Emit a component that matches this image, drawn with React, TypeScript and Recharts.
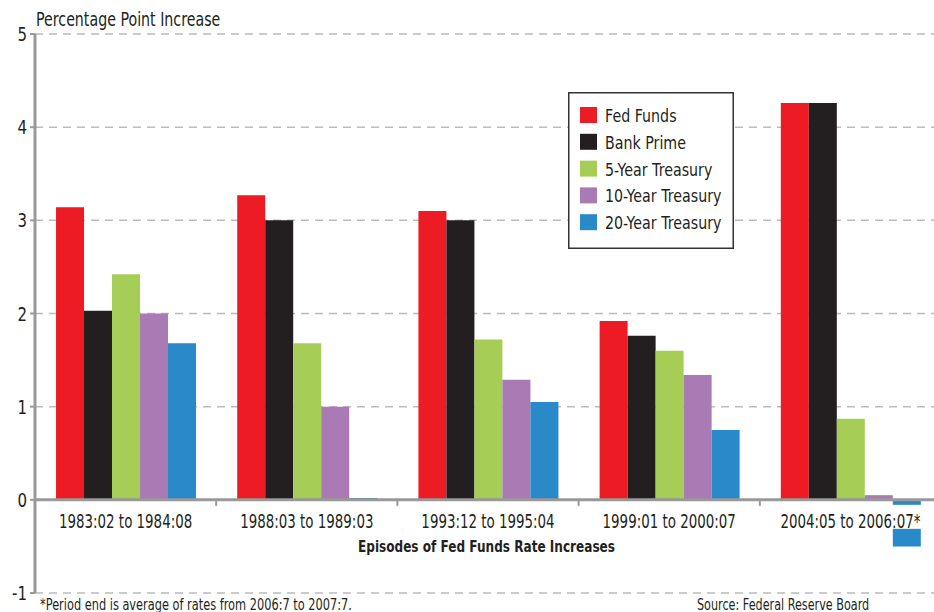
import React from 'react';
import { BarChart, Bar, XAxis, YAxis, CartesianGrid, ReferenceLine } from 'recharts';

const categories = ['1983:02 to 1984:08', '1988:03 to 1989:03', '1993:12 to 1995:04', '1999:01 to 2000:07', '2004:05 to 2006:07*'];
const fedFunds = [3.14, 3.27, 3.1, 1.92, 4.26];
const bankPrime = [2.03, 3.0, 3.0, 1.76, 4.26];
const treasury5 = [2.42, 1.68, 1.72, 1.6, 0.87];
const treasury10 = [2.0, 1.0, 1.29, 1.34, 0.05];
const treasury20 = [1.68, 0.02, 1.05, 0.75, -0.5];
const yTicks = [-1, 0, 1, 2, 3, 4, 5];

const seriesNames = ['Fed Funds', 'Bank Prime', '5-Year Treasury', '10-Year Treasury', '20-Year Treasury'];
const seriesColors = ['#ED1C24', '#231F20', '#A6CE57', '#AA7AB4', '#2A89C9'];

const data = categories.map((c, i) => ({
  name: c,
  fed: fedFunds[i],
  prime: bankPrime[i],
  t5: treasury5[i],
  t10: treasury10[i],
  t20: treasury20[i],
}));
const keys = ['fed', 'prime', 't5', 't10', 't20'];

const FONT = "'DejaVu Sans', sans-serif";
const W = 934;
const H = 612;
const TOP = 34;
const BOTTOM = 18;
const XAXIS_H = 1;
const PLOT_H = H - TOP - BOTTOM - XAXIS_H;
const Y_MIN = -1;
const Y_MAX = 5;
const ZERO_Y = TOP + ((Y_MAX - 0) / (Y_MAX - Y_MIN)) * PLOT_H;

const CategoryTick = (props: any) => {
  const { x, payload, index } = props;
  const half = payload && payload.offset ? payload.offset : 90;
  const label = String(payload.value);
  const tw = label.length * 7.35;
  return (
    <g>
      <rect x={x - tw / 2 - 2} y={ZERO_Y + 5} width={tw + 4} height={24} fill="#fff" />
      <text
        transform={`translate(${x},${ZERO_Y + 28}) scale(0.67,1)`}
        x={0}
        y={0}
        textAnchor="middle"
        fontFamily={FONT}
        fontSize={20}
        fill="#231F20"
      >
        {label}
      </text>
      {index < categories.length - 1 && (
        <line x1={x + half} x2={x + half} y1={ZERO_Y} y2={ZERO_Y + 6} stroke="#999" strokeWidth={2} />
      )}
    </g>
  );
};

const YTick = (props: any) => {
  const { x, y, payload } = props;
  return (
    <text
      transform={`translate(${x},${y + 7}) scale(0.75,1)`}
      x={0}
      y={0}
      textAnchor="end"
      fontFamily={FONT}
      fontSize={20}
      fill="#231F20"
    >
      {payload.value}
    </text>
  );
};

const textStyle: React.CSSProperties = {
  position: 'absolute',
  fontFamily: FONT,
  color: '#231F20',
  whiteSpace: 'nowrap',
  transformOrigin: 'left top',
};

const LEG_X = 568;
const LEG_Y = 92;
const LEG_W = 166;
const LEG_H = 157;

export default function App() {
  return (
    <div style={{ position: 'absolute', left: 0, top: 0, width: W, height: H, background: '#fff', fontFamily: FONT, overflow: 'hidden' }}>
      <BarChart
        width={W}
        height={H}
        data={data}
        margin={{ top: TOP, right: -7, left: 0, bottom: BOTTOM }}
        barCategoryGap="11.6%"
        barGap={0}
        style={{ overflow: 'hidden' }}
      >
        <CartesianGrid vertical={false} stroke="#bbb" strokeDasharray="8 6" strokeWidth={1.5} />
        <YAxis
          width={35}
          domain={[Y_MIN, Y_MAX]}
          ticks={yTicks}
          interval={0}
          axisLine={{ stroke: '#999', strokeWidth: 3 }}
          tickLine={{ stroke: '#999', strokeWidth: 2 }}
          tickSize={5}
          tickMargin={3}
          tick={<YTick />}
        />
        {keys.map((k, i) => (
          <Bar key={k} dataKey={k} name={seriesNames[i]} fill={seriesColors[i]} isAnimationActive={false} />
        ))}
        <ReferenceLine y={0} stroke="#999" strokeWidth={3} />
        <XAxis dataKey="name" height={XAXIS_H} axisLine={false} tickLine={false} tick={<CategoryTick />} interval={0} />
      </BarChart>
      <svg style={{ position: 'absolute', left: LEG_X, top: LEG_Y }} width={LEG_W} height={LEG_H}>
        <rect x={0.75} y={0.75} width={LEG_W - 1.5} height={LEG_H - 1.5} fill="#fff" stroke="#333" strokeWidth={1.5} />
        {seriesNames.map((n, i) => (
          <g key={n}>
            <rect x={12} y={15 + i * 26.8} width={17} height={16} fill={seriesColors[i]} />
            <text
              transform={`translate(37,${30 + i * 26.8}) scale(0.79,1)`}
              x={0}
              y={0}
              fontFamily={FONT}
              fontSize={18}
              fill="#231F20"
            >
              {n}
            </text>
          </g>
        ))}
      </svg>
      <div style={{ ...textStyle, left: 36, top: 7, fontSize: 20, transform: 'scaleX(0.71)' }}>Percentage Point Increase</div>
      <div style={{ ...textStyle, left: 358, top: 537, fontSize: 16, fontWeight: 'bold', transform: 'scaleX(0.755)' }}>
        Episodes of Fed Funds Rate Increases
      </div>
      <div style={{ ...textStyle, left: 40, top: 595, fontSize: 16, transform: 'scaleX(0.71)' }}>
        *Period end is average of rates from 2006:7 to 2007:7.
      </div>
      <div style={{ ...textStyle, left: 697, top: 595, fontSize: 16, transform: 'scaleX(0.70)' }}>Source: Federal Reserve Board</div>
    </div>
  );
}
